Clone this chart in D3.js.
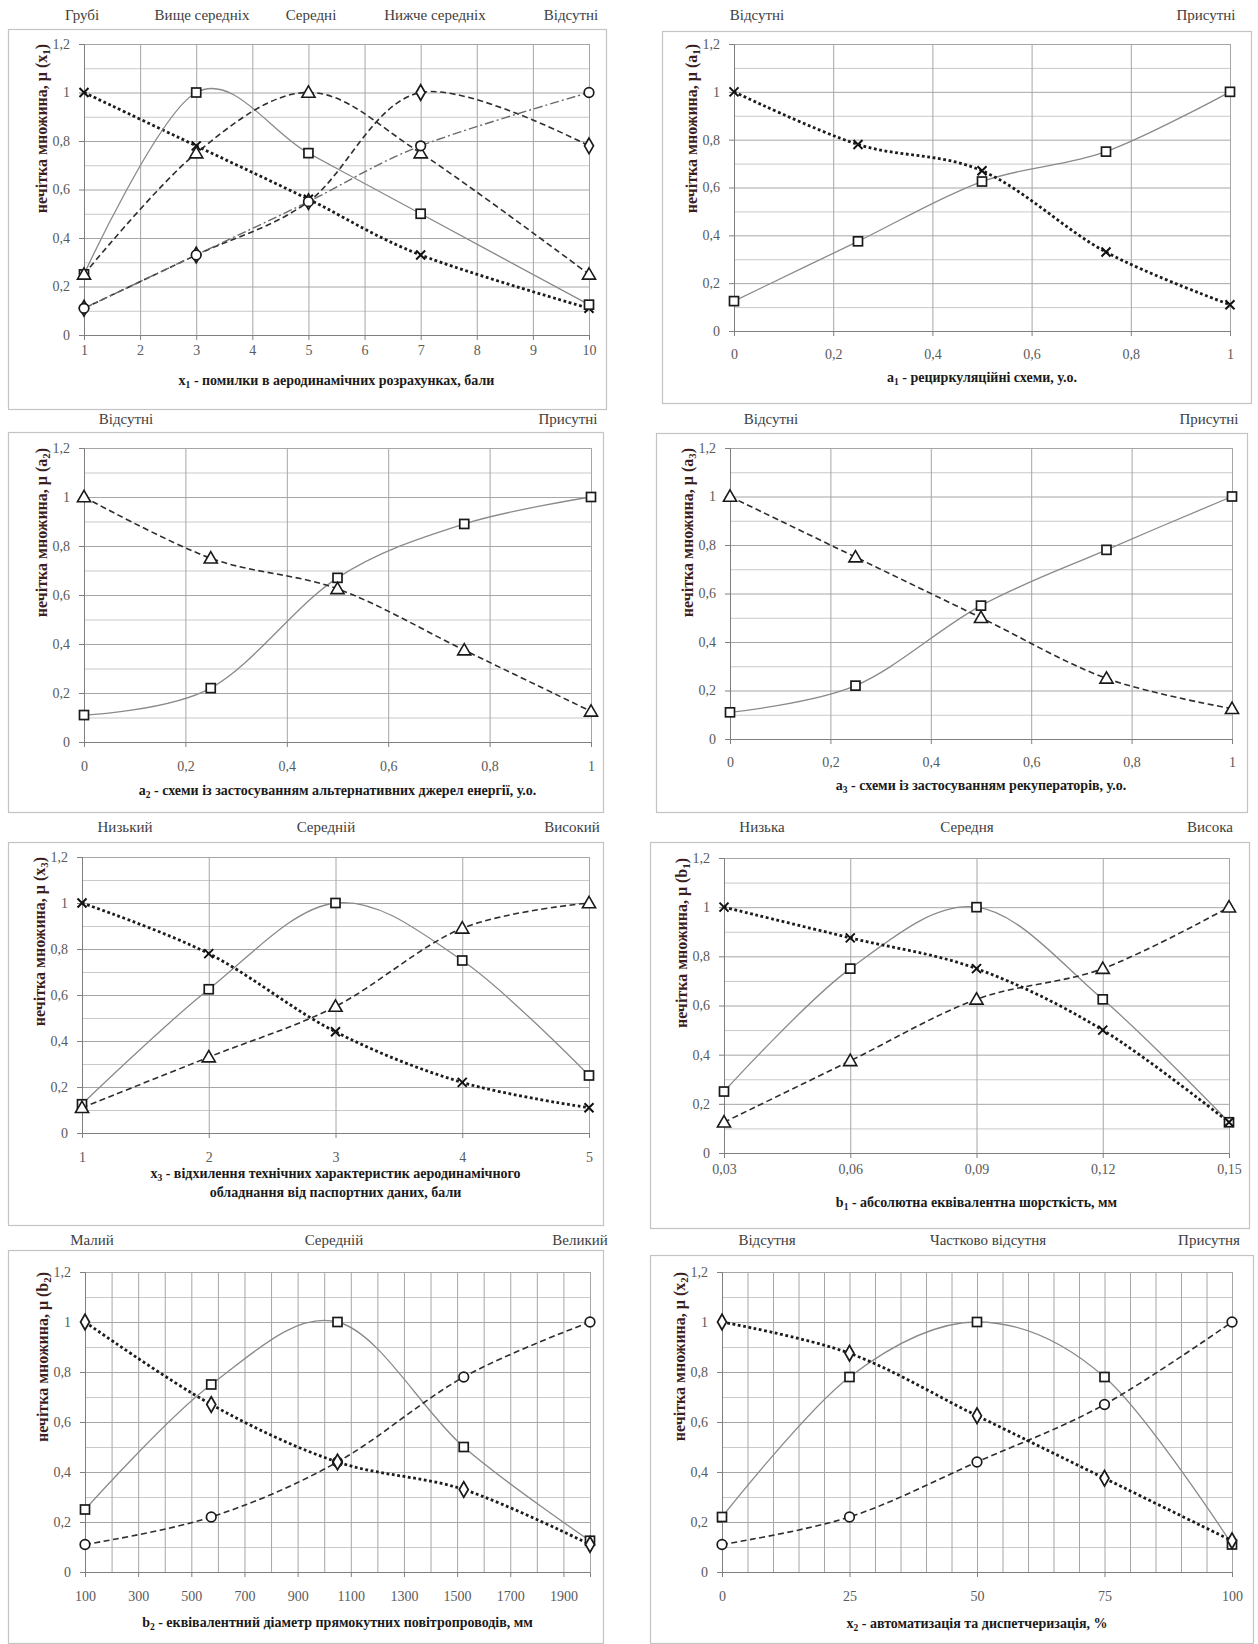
<!DOCTYPE html>
<html>
<head>
<meta charset="utf-8">
<script src="https://cdnjs.cloudflare.com/ajax/libs/d3/7.8.5/d3.min.js"></script>
<style>
    body { margin: 0; background: #fff; }
    svg { display: block; }
</style>
</head>
<body>
<div id="chart"></div>
<script>
(function () {

    // panel 1: x1 - errors in aerodynamic calculations
    var x1Values = [1, 3, 5, 7, 10];
    var x1Coarse = [1, 0.78, 0.56, 0.33, 0.11];
    var x1AboveAvg = [0.25, 1, 0.75, 0.5, 0.125];
    var x1Avg = [0.25, 0.75, 1, 0.75, 0.25];
    var x1BelowAvg = [0.11, 0.33, 0.55, 1, 0.78];
    var x1None = [0.11, 0.33, 0.55, 0.78, 1];
    var x1Ticks = [1, 2, 3, 4, 5, 6, 7, 8, 9, 10];
    var x1Terms = ["Грубі", "Вище середніх", "Середні", "Нижче середніх", "Відсутні"];

    // panel 2: a1 - recirculation schemes
    var a1Values = [0, 0.25, 0.5, 0.75, 1];
    var a1Absent = [1, 0.78, 0.67, 0.33, 0.11];
    var a1Present = [0.125, 0.375, 0.625, 0.75, 1];

    // panel 3: a2 - alternative energy sources
    var a2Values = [0, 0.25, 0.5, 0.75, 1];
    var a2Absent = [1, 0.75, 0.625, 0.375, 0.125];
    var a2Present = [0.11, 0.22, 0.67, 0.89, 1];

    // panel 4: a3 - recuperators
    var a3Values = [0, 0.25, 0.5, 0.75, 1];
    var a3Absent = [1, 0.75, 0.5, 0.25, 0.125];
    var a3Present = [0.11, 0.22, 0.55, 0.78, 1];

    var unitTicks = [0, 0.2, 0.4, 0.6, 0.8, 1];
    var presenceTerms = ["Відсутні", "Присутні"];

    // panel 5: x3 - deviation of equipment characteristics
    var x3Values = [1, 2, 3, 4, 5];
    var x3Low = [1, 0.78, 0.44, 0.22, 0.11];
    var x3Mid = [0.125, 0.625, 1, 0.75, 0.25];
    var x3High = [0.11, 0.33, 0.55, 0.89, 1];
    var x3Ticks = [1, 2, 3, 4, 5];
    var x3Terms = ["Низький", "Середній", "Високий"];

    // panel 6: b1 - absolute equivalent roughness
    var b1Values = [0.03, 0.06, 0.09, 0.12, 0.15];
    var b1Low = [1, 0.875, 0.75, 0.5, 0.125];
    var b1Mid = [0.25, 0.75, 1, 0.625, 0.125];
    var b1High = [0.125, 0.375, 0.625, 0.75, 1];
    var b1Terms = ["Низька", "Середня", "Висока"];

    // panel 7: b2 - equivalent duct diameter
    var b2Values = [100, 575, 1050, 1525, 2000];
    var b2Small = [1, 0.67, 0.44, 0.33, 0.11];
    var b2Mid = [0.25, 0.75, 1, 0.5, 0.125];
    var b2Large = [0.11, 0.22, 0.44, 0.78, 1];
    var b2Ticks = [100, 300, 500, 700, 900, 1100, 1300, 1500, 1700, 1900];
    var b2Terms = ["Малий", "Середній", "Великий"];

    // panel 8: x2 - automation and dispatching
    var x2Values = [0, 25, 50, 75, 100];
    var x2Absent = [1, 0.875, 0.625, 0.375, 0.125];
    var x2Partial = [0.22, 0.78, 1, 0.78, 0.11];
    var x2Present = [0.11, 0.22, 0.44, 0.67, 1];
    var x2Ticks = [0, 25, 50, 75, 100];
    var x2Terms = ["Відсутня", "Частково відсутня", "Присутня"];

    var yTicks = [0, 0.2, 0.4, 0.6, 0.8, 1, 1.2];
    var yGrid = d3.range(0, 13).map(function (i) { return i / 10; });

    var serif = '"Liberation Serif", "Times New Roman", serif';

    var comma = function (d) { return String(+d.toFixed(3)).replace(".", ","); };

    var yLabel = function (v) { return ["нечітка множина, μ (" + v[0], v[1], ")"]; };

    var panels = [
        {
            frame: [8, 29, 606, 409], plot: [84, 589, 44, 335], xDomain: [1, 10],
            xTicks: x1Ticks, xGrid: x1Ticks, tickPad: 5,
            headers: x1Terms, headerX: [82, 202, 311, 435, 571], headerY: 15,
            xTitle: [["x", "1", " - помилки в аеродинамічних розрахунках, бали"]], titleY: [380],
            yTitle: yLabel("x1"),
            series: [
                {x: x1Values, y: x1Coarse, line: "dotted", mark: "x"},
                {x: x1Values, y: x1AboveAvg, line: "solid", mark: "square"},
                {x: x1Values, y: x1Avg, line: "dashed", mark: "triangle"},
                {x: x1Values, y: x1BelowAvg, line: "dashed", mark: "diamond"},
                {x: x1Values, y: x1None, line: "dashdot", mark: "circle"}
            ]
        },
        {
            frame: [662, 31, 1251, 403], plot: [734, 1230, 44, 331], xDomain: [0, 1],
            xTicks: unitTicks, xGrid: unitTicks, tickPad: 13,
            headers: presenceTerms, headerX: [757, 1206], headerY: 15,
            xTitle: [["a", "1", " - рециркуляційні схеми, у.о."]], titleY: [377],
            yTitle: yLabel("a1"),
            series: [
                {x: a1Values, y: a1Present, line: "solid", mark: "square"},
                {x: a1Values, y: a1Absent, line: "dotted", mark: "x"}
            ]
        },
        {
            frame: [8, 432, 603, 812], plot: [84, 591, 448, 742], xDomain: [0, 1],
            xTicks: unitTicks, xGrid: unitTicks, tickPad: 14,
            headers: presenceTerms, headerX: [126, 568], headerY: 419,
            xTitle: [["a", "2", " - схеми із застосуванням альтернативних джерел енергії, у.о."]], titleY: [790],
            yTitle: yLabel("a2"),
            series: [
                {x: a2Values, y: a2Present, line: "solid", mark: "square"},
                {x: a2Values, y: a2Absent, line: "dashed", mark: "triangle"}
            ]
        },
        {
            frame: [656, 433, 1247, 812], plot: [730, 1232, 448, 739], xDomain: [0, 1],
            xTicks: unitTicks, xGrid: unitTicks, tickPad: 13,
            headers: presenceTerms, headerX: [771, 1209], headerY: 419,
            xTitle: [["a", "3", " - схеми із застосуванням рекуператорів, у.о."]], titleY: [785],
            yTitle: yLabel("a3"),
            series: [
                {x: a3Values, y: a3Present, line: "solid", mark: "square"},
                {x: a3Values, y: a3Absent, line: "dashed", mark: "triangle"}
            ]
        },
        {
            frame: [8, 842, 603, 1225], plot: [82, 589, 857, 1133], xDomain: [1, 5],
            xTicks: x3Ticks, xGrid: x3Ticks, tickPad: 14,
            headers: x3Terms, headerX: [125, 326, 572], headerY: 827,
            xTitle: [["x", "3", " - відхилення технічних характеристик аеродинамічного"],
                     ["обладнання від паспортних даних, бали"]], titleY: [1173, 1192],
            yTitle: yLabel("x3"),
            series: [
                {x: x3Values, y: x3Mid, line: "solid", mark: "square"},
                {x: x3Values, y: x3High, line: "dashed", mark: "triangle"},
                {x: x3Values, y: x3Low, line: "dotted", mark: "x"}
            ]
        },
        {
            frame: [650, 842, 1249, 1228], plot: [724, 1229, 858, 1153], xDomain: [0.03, 0.15],
            xTicks: b1Values, xGrid: b1Values, tickPad: 6,
            headers: b1Terms, headerX: [762, 967, 1210], headerY: 827,
            xTitle: [["b", "1", " - абсолютна еквівалентна шорсткість, мм"]], titleY: [1202],
            yTitle: yLabel("b1"),
            series: [
                {x: b1Values, y: b1Mid, line: "solid", mark: "square"},
                {x: b1Values, y: b1High, line: "dashed", mark: "triangle"},
                {x: b1Values, y: b1Low, line: "dotted", mark: "x"}
            ]
        },
        {
            frame: [8, 1250, 603, 1643], plot: [85, 590, 1272, 1572], xDomain: [100, 2000],
            xTicks: b2Ticks, xGrid: d3.range(100, 2001, 100), tickPad: 14,
            headers: b2Terms, headerX: [92, 334, 580], headerY: 1240,
            xTitle: [["b", "2", " - еквівалентний діаметр прямокутних повітропроводів, мм"]], titleY: [1622],
            yTitle: yLabel("b2"),
            series: [
                {x: b2Values, y: b2Mid, line: "solid", mark: "square"},
                {x: b2Values, y: b2Large, line: "dashed", mark: "circle"},
                {x: b2Values, y: b2Small, line: "dotted", mark: "diamond"}
            ]
        },
        {
            frame: [650, 1255, 1253, 1643], plot: [722, 1232, 1272, 1572], xDomain: [0, 100],
            xTicks: x2Ticks, xGrid: d3.range(0, 101, 5), tickPad: 14,
            headers: x2Terms, headerX: [767, 988, 1209], headerY: 1240,
            xTitle: [["x", "2", " - автоматизація та диспетчеризація, %"]], titleY: [1623],
            yTitle: yLabel("x2"),
            series: [
                {x: x2Values, y: x2Partial, line: "solid", mark: "square"},
                {x: x2Values, y: x2Present, line: "dashed", mark: "circle"},
                {x: x2Values, y: x2Absent, line: "dotted", mark: "diamond"}
            ]
        }
    ];

    // line styles
    var lineStyle = {
        solid:   {stroke: "#8a8a8a", width: 1.3, dash: null},
        dashed:  {stroke: "#2e2e2e", width: 1.6, dash: "6,3.5"},
        dotted:  {stroke: "#1c1c1c", width: 2.8, dash: "2.8,2.6"},
        dashdot: {stroke: "#6a6a6a", width: 1.4, dash: "9,3,2,3"}
    };

    var svg = d3.select("#chart").append("svg")
        .attr("width", 1258)
        .attr("height", 1644)
        .attr("font-family", serif);

    // writes text with a subscript in the middle
    var subText = function (t, parts) {
        t.append("tspan").text(parts[0]);
        if (parts.length > 1) {
            t.append("tspan").attr("font-size", "0.68em").attr("dy", 3).text(parts[1]);
            t.append("tspan").attr("dy", -3).text(parts[2]);
        }
    };

    var drawMarker = function (g, type, cx, cy) {
        var m = g.append("g").attr("transform", "translate(" + cx + "," + cy + ")");
        if (type == "square") {
            m.append("rect").attr("x", -4.5).attr("y", -4.5).attr("width", 9).attr("height", 9)
                .attr("fill", "#fff").attr("stroke", "#1a1a1a").attr("stroke-width", 1.7);
        }
        else if (type == "triangle") {
            m.append("path").attr("d", d3.symbol(d3.symbolTriangle, 75)())
                .attr("transform", "translate(0,1)")
                .attr("fill", "#fff").attr("stroke", "#1a1a1a").attr("stroke-width", 1.6);
        }
        else if (type == "diamond") {
            m.append("path").attr("d", d3.symbol(d3.symbolDiamond, 70)())
                .attr("fill", "#fff").attr("stroke", "#1a1a1a").attr("stroke-width", 1.7);
        }
        else if (type == "circle") {
            m.append("circle").attr("r", 4.8)
                .attr("fill", "#fff").attr("stroke", "#1a1a1a").attr("stroke-width", 1.7);
        }
        else {
            m.append("path").attr("d", "M-4.5,-4.5L4.5,4.5M-4.5,4.5L4.5,-4.5")
                .attr("stroke", "#111").attr("stroke-width", 2).attr("fill", "none");
        }
    };

    // styles an axis group after d3 has drawn it
    var styleAxis = function (a) {
        a.attr("font-family", serif).attr("font-size", 14);
        a.select(".domain").attr("stroke", "#7f7f7f");
        a.selectAll("line").attr("stroke", "#7f7f7f");
        a.selectAll("text").attr("fill", "#5a5a5a");
    };

    var drawPanel = function (p) {
        var g = svg.append("g");
        var left = p.plot[0], right = p.plot[1], top = p.plot[2], bottom = p.plot[3];
        var w = right - left, h = bottom - top;

        // frame
        g.append("rect")
            .attr("x", p.frame[0] + 0.5).attr("y", p.frame[1] + 0.5)
            .attr("width", p.frame[2] - p.frame[0]).attr("height", p.frame[3] - p.frame[1])
            .attr("fill", "#fff").attr("stroke", "#c4c4c4").attr("stroke-width", 1.2);

        var x = d3.scaleLinear().domain(p.xDomain).range([left, right]);
        var y = d3.scaleLinear().domain([0, 1.2]).range([bottom, top]);

        // horizontal grid, every 0.1
        g.append("g").attr("transform", "translate(" + left + ",0)")
            .call(d3.axisLeft(y).tickValues(yGrid).tickSize(-w).tickFormat(""))
            .call(function (a) {
                a.select(".domain").remove();
                a.selectAll("line")
                    .attr("stroke", function (d) { return Math.round(d * 10) % 2 ? "#c9c9c9" : "#a6a6a6"; });
            });

        // vertical grid
        g.append("g").attr("transform", "translate(0," + bottom + ")")
            .call(d3.axisBottom(x).tickValues(p.xGrid).tickSize(-h).tickFormat(""))
            .call(function (a) {
                a.select(".domain").remove();
                a.selectAll("line").attr("stroke", "#a6a6a6");
            });

        // axes
        g.append("g").attr("transform", "translate(0," + bottom + ")")
            .call(d3.axisBottom(x).tickValues(p.xTicks).tickFormat(comma).tickSize(5).tickPadding(p.tickPad))
            .call(styleAxis);

        g.append("g").attr("transform", "translate(" + left + ",0)")
            .call(d3.axisLeft(y).tickValues(yTicks).tickFormat(comma).tickSize(5).tickPadding(9))
            .call(styleAxis);

        // linguistic terms above the frame
        p.headers.forEach(function (t, i) {
            g.append("text")
                .attr("font-size", 15).attr("fill", "#404040")
                .attr("x", p.headerX[i]).attr("y", p.headerY).attr("dy", "0.35em")
                .attr("text-anchor", "middle").text(t);
        });

        // axis titles
        p.xTitle.forEach(function (parts, i) {
            var t = g.append("text")
                .attr("font-size", 14).attr("font-weight", "bold").attr("fill", "#1a1a1a")
                .attr("x", (left + right) / 2).attr("y", p.titleY[i]).attr("dy", "0.35em")
                .attr("text-anchor", "middle");
            subText(t, parts);
        });

        var yt = g.append("text")
            .attr("font-size", 16).attr("font-weight", "bold").attr("fill", "#3b1e1e")
            .attr("transform", "translate(" + (left - 43) + "," + top + ") rotate(-90)")
            .attr("dy", "0.35em")
            .attr("text-anchor", "end");
        subText(yt, p.yTitle);

        // lines
        var line = d3.line()
            .x(function (d) { return x(d[0]); })
            .y(function (d) { return y(d[1]); })
            .curve(d3.curveCardinal.tension(0));

        p.series.forEach(function (s) {
            var st = lineStyle[s.line];
            var pts = s.x.map(function (v, i) { return [v, s.y[i]]; });
            g.append("path").datum(pts)
                .attr("d", line)
                .attr("fill", "none")
                .attr("stroke", st.stroke)
                .attr("stroke-width", st.width)
                .attr("stroke-dasharray", st.dash);
        });

        // markers on top
        p.series.forEach(function (s) {
            s.x.forEach(function (v, i) {
                drawMarker(g, s.mark, x(v), y(s.y[i]));
            });
        });
    };

    panels.forEach(drawPanel);

})();
</script>
</body>
</html>
